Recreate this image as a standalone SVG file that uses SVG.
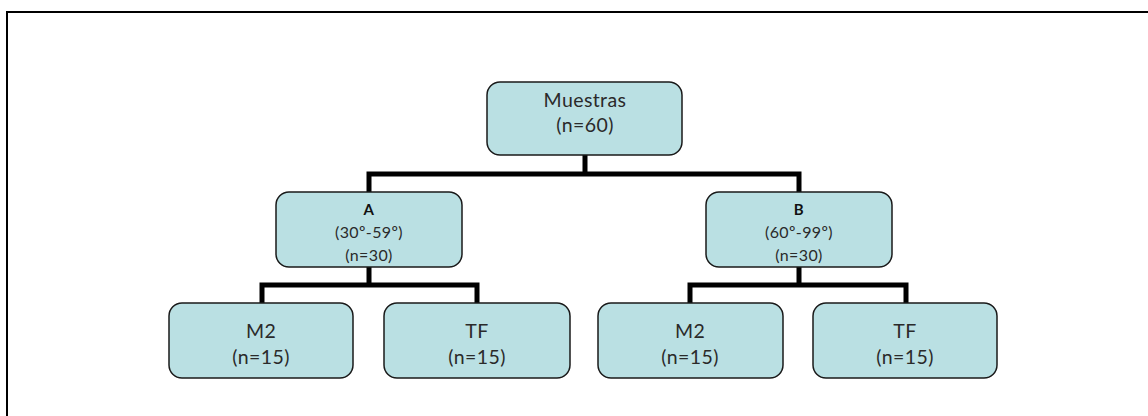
<svg xmlns="http://www.w3.org/2000/svg" width="1148" height="416" viewBox="0 0 1148 416">
  <style>
    .box { fill: #bae0e3; stroke: #1a1a1a; stroke-width: 1.5; }
    .lbl { font-family: "Lato", "Liberation Sans", sans-serif; fill: #2a2a2a; text-anchor: middle; letter-spacing: 0.4px; }
    .big { font-size: 19.5px; }
    .mid { font-size: 16px; }
    .hd { font-size: 15px; font-weight: bold; fill: #111; }
    .wire { fill: none; stroke: #000; stroke-width: 5; stroke-linejoin: miter; }
  </style>
  <rect width="1148" height="416" fill="#fff"/>
  <!-- frame: left and top edges -->
  <path d="M7 416 V12 H1148" fill="none" stroke="#000" stroke-width="2"/>

  <g id="connectors">
    <path class="wire" d="M585 155 V174 M369 192 V174 H799 V192"/>
    <path class="wire" d="M369 267 V285 M262 303 V285 H477 V303"/>
    <path class="wire" d="M799 267 V285 M690 303 V285 H906 V303"/>
  </g>

  <g id="root">
    <rect class="box" x="487" y="82" width="195" height="73" rx="13"/>
    <text class="lbl big" x="585" y="107">Muestras</text>
    <text class="lbl big" x="585" y="132">(n=60)</text>
  </g>

  <g id="groupA">
    <rect class="box" x="276" y="192" width="186" height="75" rx="13"/>
    <text class="lbl hd" x="369" y="215">A</text>
    <text class="lbl mid" x="369" y="238">(30º-59º)</text>
    <text class="lbl mid" x="369" y="261">(n=30)</text>
  </g>

  <g id="groupB">
    <rect class="box" x="706" y="192" width="186" height="75" rx="13"/>
    <text class="lbl hd" x="799" y="215">B</text>
    <text class="lbl mid" x="799" y="238">(60º-99º)</text>
    <text class="lbl mid" x="799" y="261">(n=30)</text>
  </g>

  <g id="a-m2">
    <rect class="box" x="169" y="303" width="184" height="75" rx="13"/>
    <text class="lbl big" x="261" y="338">M2</text>
    <text class="lbl big" x="261" y="364">(n=15)</text>
  </g>

  <g id="a-tf">
    <rect class="box" x="384" y="303" width="186" height="75" rx="13"/>
    <text class="lbl big" x="477" y="338">TF</text>
    <text class="lbl big" x="477" y="364">(n=15)</text>
  </g>

  <g id="b-m2">
    <rect class="box" x="598" y="303" width="185" height="75" rx="13"/>
    <text class="lbl big" x="690" y="338">M2</text>
    <text class="lbl big" x="690" y="364">(n=15)</text>
  </g>

  <g id="b-tf">
    <rect class="box" x="813" y="303" width="184" height="75" rx="13"/>
    <text class="lbl big" x="905" y="338">TF</text>
    <text class="lbl big" x="905" y="364">(n=15)</text>
  </g>
</svg>
